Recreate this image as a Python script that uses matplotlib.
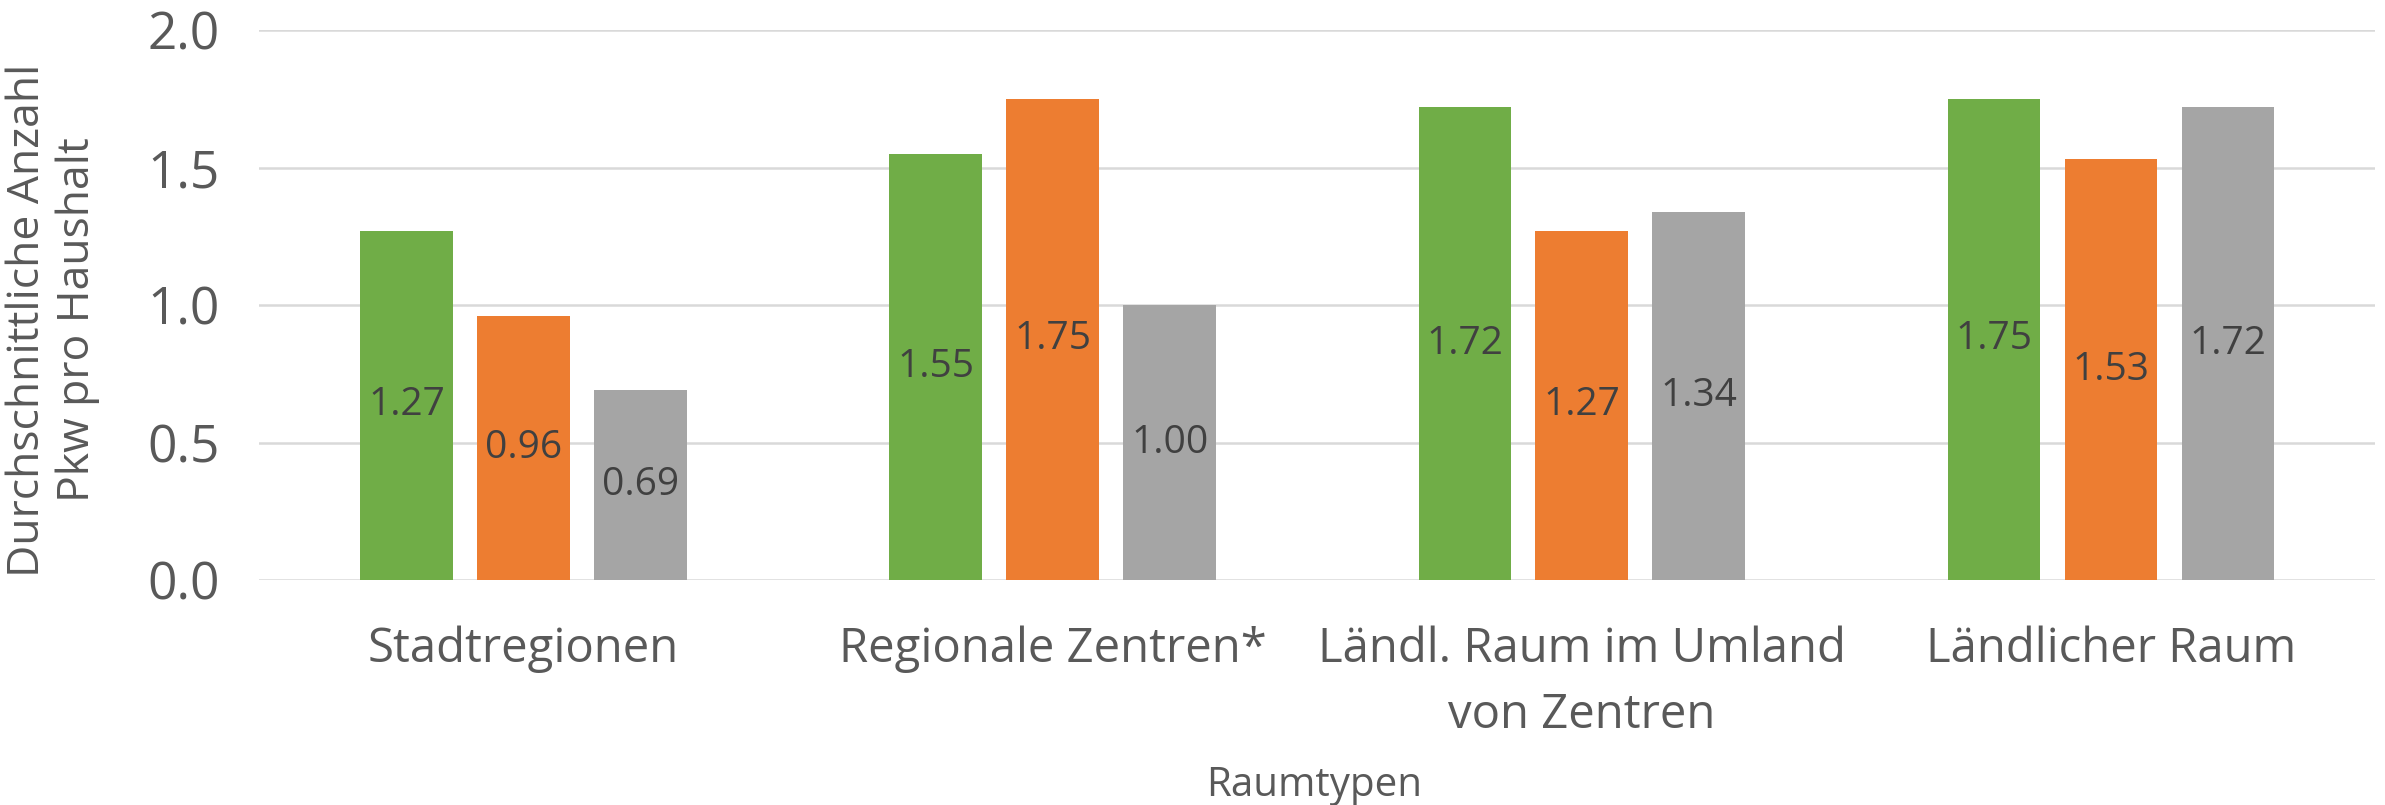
import numpy as np
import matplotlib.pyplot as plt

# Daten
kategorien = ['Stadtregionen', 'Regionale Zentren*', 'Ländl. Raum im Umland\nvon Zentren', 'Ländlicher Raum']
werte_gruen = [1.27, 1.55, 1.72, 1.75]
werte_orange = [0.96, 1.75, 1.27, 1.53]
werte_grau = [0.69, 1.00, 1.34, 1.72]
y_ticks = [0.0, 0.5, 1.0, 1.5, 2.0]

farben = ['#70AD47', '#ED7D31', '#A5A5A5']
text_farbe = '#595959'

plt.rcParams['font.family'] = ['Open Sans', 'DejaVu Sans']

fig = plt.figure(figsize=(23.85, 8.05), dpi=100)
ax = fig.add_axes([0.1086, 0.2795, 0.8874, 0.6832])

x = np.arange(len(kategorien))
breite = 0.175
abstand = 0.221

for i, (werte, farbe) in enumerate(zip([werte_gruen, werte_orange, werte_grau], farben)):
    pos = x + (i - 1) * abstand
    balken = ax.bar(pos, werte, width=breite, color=farbe, zorder=3)
    ax.bar_label(balken, labels=[f'{w:.2f}' for w in werte], label_type='center',
                 fontsize=28, color='#404040')

# Achsen
ax.set_xlim(-0.5, len(kategorien) - 0.5)
ax.set_ylim(0, 2.0)
ax.set_yticks(y_ticks)
ax.set_yticklabels([f'{v:.1f}' for v in y_ticks])
ax.set_xticks(x)
ax.set_xticklabels(kategorien, linespacing=1.5)
ax.tick_params(axis='y', length=0, pad=28, labelsize=37, labelcolor=text_farbe)
ax.tick_params(axis='x', length=0, pad=33, labelsize=34, labelcolor=text_farbe)
for spine in ax.spines.values():
    spine.set_visible(False)
ax.grid(axis='y', color='#D9D9D9', linewidth=1.8, zorder=0)

fig.text(53 / 2385, 1 - 320 / 805, 'Durchschnittliche Anzahl\nPkw pro Haushalt',
         rotation=90, ha='center', va='center', fontsize=32, color=text_farbe,
         linespacing=1.15)
fig.text(1314 / 2385, 1 - 786 / 805, 'Raumtypen', ha='center', va='center',
         fontsize=29, color=text_farbe)

fig.savefig('out.png', dpi=100)
